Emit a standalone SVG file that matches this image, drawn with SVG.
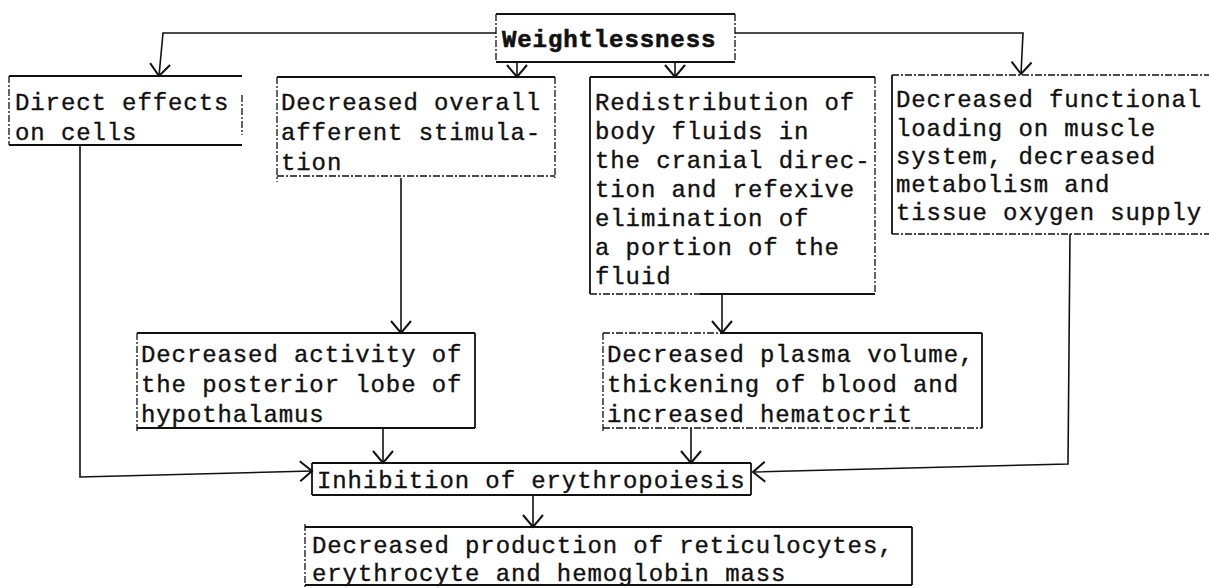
<svg xmlns="http://www.w3.org/2000/svg" width="1209" height="588" viewBox="0 0 1209 588">
<style>
.t{font-family:"Liberation Mono","DejaVu Sans Mono",monospace;font-size:24px;letter-spacing:0.9px;fill:#111;stroke:#111;stroke-width:0.35}
.b{font-weight:bold;stroke-width:0.6}
.s{stroke:#111;stroke-width:1.8;fill:none}
.d{stroke:#111;stroke-width:1.3;fill:none;stroke-dasharray:7 2 2 2}
.c{stroke:#111;stroke-width:1.6;fill:none;marker-end:url(#ah)}
</style>
<defs>
<marker id="ah" markerUnits="userSpaceOnUse" markerWidth="16" markerHeight="24" refX="13" refY="10" orient="auto" overflow="visible">
<path d="M1,0 L13,10 L1,20" fill="none" stroke="#111" stroke-width="2"/>
</marker>
</defs>
<rect width="1209" height="588" fill="#fff"/>

<g id="connectors">
<path class="c" d="M496,33 H163 L159,76"/>
<path class="c" d="M517,62 V77"/>
<path class="c" d="M675,62 V77"/>
<path class="c" d="M735,33 H1023 L1021,74"/>
<path class="c" d="M80,145 V477 L312,471"/>
<path class="c" d="M401,178 V333"/>
<path class="c" d="M722,294 V333"/>
<path class="c" d="M383,428 V463"/>
<path class="c" d="M691,428 V463"/>
<path class="c" d="M1070,234 L1068,464 L753,472"/>
<path class="c" d="M533,495 V527"/>
</g>

<g id="weightlessness">
<path class="s" d="M496,14 H735 M496,62 H735"/>
<path class="d" d="M496,14 V62 M735,14 V62"/>
<text class="t b" x="502" y="47">Weightlessness</text>
</g>

<g id="direct-effects">
<path class="s" d="M9,76 H242 M9,145 H242"/>
<path class="d" d="M9,76 V145 M242,95 V135"/>
<text class="t" x="15" y="110">Direct effects</text>
<text class="t" x="15" y="140">on cells</text>
</g>

<g id="decreased-afferent">
<path class="s" d="M277,77 H555"/>
<path class="d" d="M277,77 V182 M555,77 V178 M277,176 H555"/>
<text class="t" x="281" y="110">Decreased overall</text>
<text class="t" x="281" y="140">afferent stimula-</text>
<text class="t" x="281" y="170">tion</text>
</g>

<g id="redistribution">
<path class="s" d="M590,77 H875 M590,77 V294 M700,294 H875"/>
<path class="d" d="M875,77 V294 M590,294 H700"/>
<text class="t" x="595" y="110">Redistribution of</text>
<text class="t" x="595" y="139">body fluids in</text>
<text class="t" x="595" y="168">the cranial direc-</text>
<text class="t" x="595" y="197">tion and refexive</text>
<text class="t" x="595" y="226">elimination of</text>
<text class="t" x="595" y="255">a portion of the</text>
<text class="t" x="595" y="284">fluid</text>
</g>

<g id="decreased-functional">
<path class="s" d="M892,75 V234"/>
<path class="d" d="M892,75 H1209 M892,234 H1209"/>
<text class="t" x="896" y="107">Decreased functional</text>
<text class="t" x="896" y="136">loading on muscle</text>
<text class="t" x="896" y="164">system, decreased</text>
<text class="t" x="896" y="192">metabolism and</text>
<text class="t" x="896" y="220">tissue oxygen supply</text>
</g>

<g id="decreased-activity">
<path class="s" d="M137,333 H475 M475,333 V428 M137,428 H475"/>
<path class="d" d="M137,333 V432"/>
<text class="t" x="141" y="362">Decreased activity of</text>
<text class="t" x="141" y="392">the posterior lobe of</text>
<text class="t" x="141" y="422">hypothalamus</text>
</g>

<g id="decreased-plasma">
<path class="s" d="M982,333 V428 M720,333 H982"/>
<path class="d" d="M603,333 H720 M603,333 V432 M603,428 H982"/>
<text class="t" x="607" y="362">Decreased plasma volume,</text>
<text class="t" x="607" y="392">thickening of blood and</text>
<text class="t" x="607" y="422">increased hematocrit</text>
</g>

<g id="inhibition">
<path class="s" d="M312,463 H751 M312,495 H751 M312,463 V495 M751,463 V495"/>
<text class="t" x="317" y="488">Inhibition of erythropoiesis</text>
</g>

<g id="decreased-production">
<path class="s" d="M305,527 H912 M912,527 V585 M305,585 H912"/>
<path class="d" d="M305,524 V588"/>
<text class="t" x="312" y="553">Decreased production of reticulocytes,</text>
<text class="t" x="312" y="581">erythrocyte and hemoglobin mass</text>
</g>
</svg>
